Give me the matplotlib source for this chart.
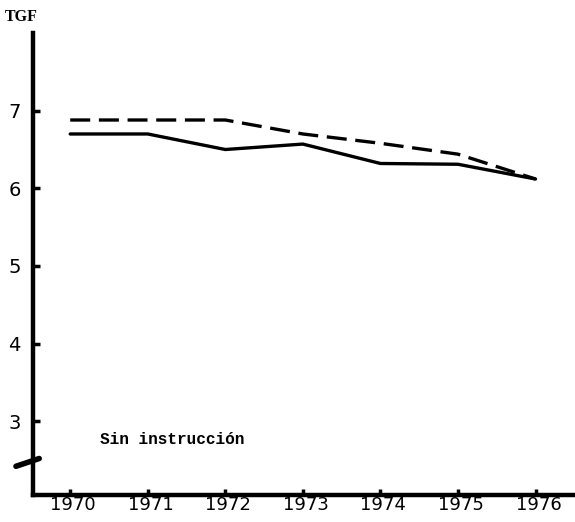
import matplotlib
matplotlib.use("Agg")
import matplotlib.pyplot as plt
from matplotlib.transforms import ScaledTranslation

years = [1970, 1971, 1972, 1973, 1974, 1975, 1976]
tgf_solid = [6.70, 6.70, 6.50, 6.57, 6.32, 6.31, 6.12]
tgf_dashed = [6.88, 6.88, 6.88, 6.70, 6.58, 6.44, 6.12]
y_ticks = [3, 4, 5, 6, 7]
label = "Sin instrucción"

fig = plt.figure(figsize=(5.75, 5.22), dpi=100)
ax = fig.add_axes([0.0574, 0.0517, 0.94, 0.885])

ax.plot(years, tgf_dashed, color="black", lw=2.4, ls=(0, (6, 2.6)), solid_capstyle="round")
ax.plot(years, tgf_solid, color="black", lw=2.4, solid_capstyle="round")

ax.set_xlim(1969.52, 1976.49)
ax.set_ylim(2.05, 8.0)
ax.set_xticks(years)
ax.set_yticks(y_ticks)
ax.set_xticklabels([str(y) for y in years], fontsize=13, family="DejaVu Sans")
ax.set_yticklabels([str(v) for v in y_ticks], fontsize=14, family="DejaVu Sans")
ax.tick_params(axis="y", direction="in", length=5, width=2.5, pad=9)
ax.tick_params(axis="x", direction="in", length=4, width=2.5, pad=1)
shift = ScaledTranslation(3 / 100, 0, fig.dpi_scale_trans)
for t in ax.get_xticklabels():
    t.set_transform(t.get_transform() + shift)

for s in ["top", "right"]:
    ax.spines[s].set_visible(False)
for s in ["left", "bottom"]:
    ax.spines[s].set_linewidth(3.2)

# axis break mark on the y axis
ax.plot([1969.30, 1969.45, 1969.60], [2.42, 2.47, 2.52], color="black", lw=4,
        clip_on=False, solid_capstyle="round")

ax.text(1970.38, 2.77, label, fontsize=11.6, family="Liberation Mono",
        fontweight="bold", va="center")
fig.text(0.008, 0.968, "TGF", fontsize=11.5, family="Liberation Serif",
         fontweight="bold", va="center")

fig.savefig("out.png", dpi=100)
